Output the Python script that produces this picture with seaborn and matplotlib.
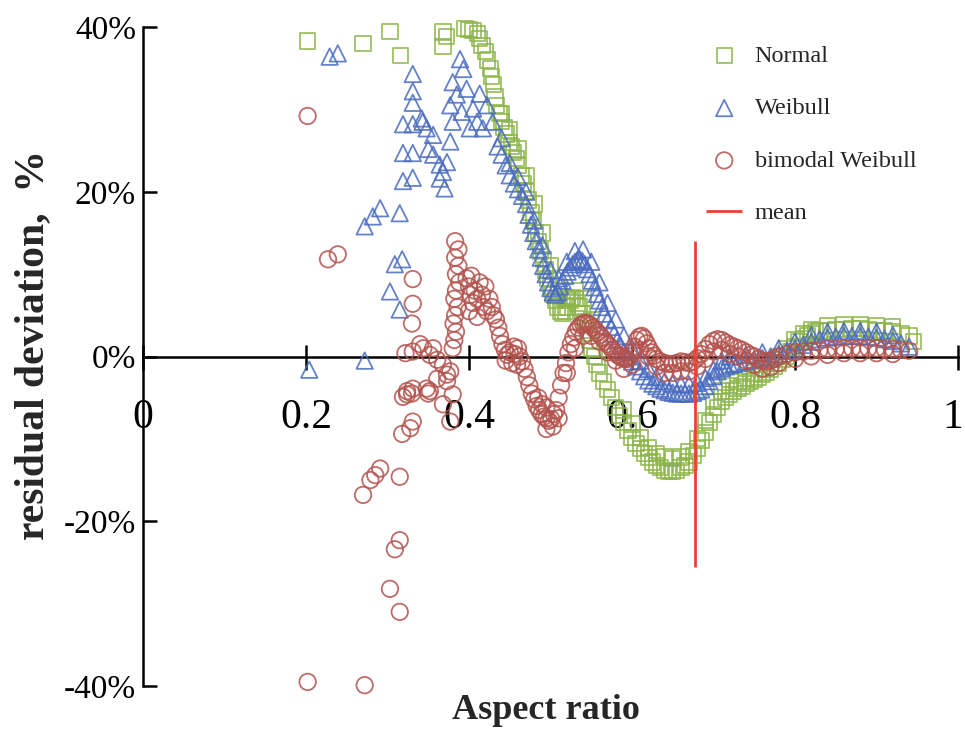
import matplotlib
matplotlib.use("Agg")
import matplotlib.pyplot as plt
import matplotlib.transforms as mtransforms
import pandas as pd
import seaborn as sns
from matplotlib.ticker import PercentFormatter

# ---------------- data ----------------
normal_x = [0.202, 0.270, 0.303, 0.316, 0.368, 0.368, 0.372,
            0.395, 0.400, 0.405, 0.410, 0.413, 0.416, 0.420, 0.423, 0.426, 0.428,
            0.430, 0.432, 0.434, 0.437, 0.440, 0.443, 0.446, 0.449, 0.452, 0.455,
            0.458, 0.461, 0.464, 0.467, 0.470, 0.473, 0.476, 0.479, 0.482, 0.485,
            0.488, 0.491, 0.494, 0.497, 0.500, 0.503, 0.506, 0.509, 0.512, 0.515,
            0.518, 0.521, 0.524, 0.527, 0.530, 0.533, 0.536, 0.539, 0.542, 0.545,
            0.548, 0.551, 0.554, 0.557, 0.560, 0.565, 0.570, 0.575, 0.580, 0.585,
            0.590, 0.595, 0.600, 0.605, 0.610, 0.615, 0.620, 0.625, 0.630, 0.635,
            0.640, 0.645, 0.650, 0.655, 0.660, 0.665, 0.670, 0.675, 0.680, 0.685,
            0.690, 0.695, 0.700, 0.705, 0.710, 0.715, 0.720, 0.725, 0.730, 0.735,
            0.740, 0.745, 0.750, 0.755, 0.760, 0.765, 0.770, 0.775, 0.780, 0.785,
            0.790, 0.795, 0.800, 0.805, 0.810, 0.815, 0.820, 0.825, 0.830, 0.840,
            0.850, 0.860, 0.870, 0.880, 0.890, 0.900, 0.910, 0.920, 0.930, 0.940,
            0.945]
normal_y = [38.3, 38.0, 39.5, 36.5, 39.4, 37.6, 38.8,
            39.8, 39.7, 39.6, 39.2, 38.6, 37.8, 37.0, 36.0, 35.0, 34.0,
            33.0, 31.5, 30.5, 29.5, 28.5, 27.8, 27.0, 26.0, 25.5, 24.8,
            24.0, 23.2, 22.0, 21.0, 20.0, 19.0, 17.5, 16.5, 15.0, 14.0,
            12.8, 11.8, 10.5, 9.5, 8.5, 7.5, 6.8, 6.0, 5.5, 5.2,
            5.5, 6.0, 6.8, 7.2, 7.0, 6.5, 6.0, 5.2, 4.2, 3.2,
            2.0, 1.0, 0.0, -1.0, -2.0, -3.0, -4.0, -5.0, -6.2, -7.2,
            -8.0, -9.0, -9.8, -10.6, -11.2, -11.8, -12.3, -12.8, -13.2, -13.5,
            -13.8, -14.0, -14.0, -13.8, -13.5, -13.2, -12.8, -12.0, -11.2, -10.2,
            -9.2, -8.0, -7.0, -6.2, -5.5, -5.0, -4.6, -4.2, -3.9, -3.6,
            -3.3, -3.0, -2.8, -2.5, -2.2, -1.9, -1.6, -1.2, -0.8, -0.4,
            0.0, 0.6, 1.2, 1.8, 2.2, 2.5, 2.8, 3.0, 3.1, 3.2,
            3.3, 3.3, 3.4, 3.4, 3.3, 3.2, 3.1, 3.0, 2.8, 2.5,
            1.8]
# second row of overlapping squares that makes the band thick
normal_band_x = [0.440, 0.450, 0.460, 0.470, 0.480, 0.490, 0.500, 0.510, 0.520,
                 0.530, 0.540, 0.550, 0.590, 0.600, 0.610, 0.620, 0.630, 0.640,
                 0.650, 0.660, 0.670, 0.680, 0.690, 0.700, 0.710, 0.720, 0.730,
                 0.740, 0.750, 0.760, 0.770, 0.780, 0.790, 0.800, 0.810, 0.820,
                 0.840, 0.860, 0.880, 0.900, 0.920]
normal_band_y = [29.5, 27.5, 25.2, 22.0, 18.5, 15.0, 11.0, 8.0, 7.0,
                 8.0, 7.0, 4.5, -6.5, -8.2, -9.8, -11.0, -11.8, -12.2,
                 -12.4, -12.2, -11.5, -10.0, -7.8, -5.5, -4.2, -3.5, -3.0,
                 -2.6, -2.0, -1.5, -0.8, 0.0, 1.0, 2.0, 2.8, 3.3,
                 3.8, 3.9, 3.9, 3.8, 3.6]

weibull_x = [0.204, 0.272, 0.229, 0.239, 0.272, 0.282, 0.291, 0.315, 0.309, 0.318,
             0.303, 0.315, 0.319, 0.331, 0.319, 0.331, 0.319, 0.331, 0.343, 0.331,
             0.331, 0.331,
             0.342, 0.348, 0.356, 0.350, 0.356, 0.364, 0.373, 0.368, 0.370, 0.364,
             0.377, 0.380, 0.377, 0.380, 0.389, 0.393, 0.385, 0.397, 0.391,
             0.413, 0.405, 0.422, 0.410, 0.429, 0.401, 0.417,
             0.435, 0.440, 0.445, 0.450, 0.455, 0.460, 0.465, 0.470, 0.473, 0.476,
             0.479, 0.482, 0.485, 0.488, 0.491, 0.494, 0.497, 0.500, 0.503, 0.506,
             0.509, 0.512, 0.515, 0.518, 0.521, 0.524, 0.527, 0.530, 0.533, 0.536,
             0.539, 0.542, 0.545, 0.548, 0.551, 0.554, 0.557, 0.560, 0.563, 0.566,
             0.570, 0.574, 0.578, 0.582, 0.586, 0.590, 0.595, 0.600, 0.605, 0.610,
             0.615, 0.620, 0.625, 0.630, 0.635, 0.640, 0.645, 0.650, 0.655, 0.660,
             0.665, 0.670, 0.675, 0.680, 0.685, 0.690, 0.695, 0.700, 0.705, 0.710,
             0.715, 0.720, 0.725, 0.730, 0.740, 0.750, 0.760, 0.770, 0.780, 0.790,
             0.800, 0.810, 0.820, 0.830, 0.840, 0.850, 0.860, 0.870, 0.880, 0.890,
             0.900, 0.910, 0.920, 0.930, 0.940]
weibull_y = [-1.6, -0.5, 36.4, 36.8, 15.8, 17.0, 18.0, 17.4, 11.2, 11.8,
             7.9, 5.7, 21.3, 21.7, 24.7, 24.7, 28.2, 28.2, 28.5, 30.8,
             32.2, 34.3,
             28.9, 27.7, 26.9, 25.2, 24.5, 23.3, 23.6, 22.4, 20.4, 21.6,
             26.1, 28.5, 30.5, 33.3, 36.1, 34.9, 31.8, 32.5, 29.7,
             31.9, 30.1, 30.5, 28.5, 28.5, 27.7, 27.7,
             25.5, 24.5, 23.2, 22.0, 21.0, 20.3, 19.5, 18.5, 17.2, 16.0,
             15.0, 14.0, 13.0, 12.0, 11.0, 10.0, 9.0, 8.3, 7.8, 7.5,
             7.8, 8.5, 9.2, 9.8, 10.3, 10.8, 11.2, 11.5, 11.7, 11.8,
             11.6, 11.2, 10.6, 10.0, 9.2, 8.4, 7.6, 6.8, 6.0, 5.2,
             4.4, 3.6, 2.8, 2.0, 1.3, 0.6, 0.0, -0.6, -1.2, -1.8,
             -2.4, -2.9, -3.3, -3.6, -3.9, -4.1, -4.3, -4.4, -4.5, -4.5,
             -4.5, -4.5, -4.4, -4.2, -4.0, -3.6, -3.0, -2.4, -1.8, -1.4,
             -1.2, -1.0, -0.9, -0.8, -0.6, -0.4, -0.2, 0.0, 0.3, 0.7,
             1.0, 1.4, 1.8, 2.1, 2.3, 2.4, 2.5, 2.5, 2.5, 2.4,
             2.3, 2.1, 1.9, 1.6, 1.2]
weibull_band_x = [0.440, 0.450, 0.460, 0.470, 0.480, 0.490, 0.500, 0.510, 0.520,
                  0.530, 0.540, 0.550, 0.560, 0.570, 0.580, 0.590, 0.600, 0.610,
                  0.620, 0.630, 0.640, 0.650, 0.660, 0.670, 0.680, 0.690, 0.700,
                  0.710, 0.720, 0.740, 0.760, 0.780, 0.800, 0.820, 0.840, 0.860,
                  0.880, 0.900, 0.920]
weibull_band_y = [26.5, 23.5, 21.8, 20.0, 16.5, 13.5, 10.5, 9.5, 11.5,
                  12.8, 13.0, 11.5, 9.0, 6.5, 4.5, 2.5, 1.0, -0.5,
                  -1.5, -2.5, -3.0, -3.3, -3.4, -3.4, -3.2, -2.6, -1.6,
                  -0.5, 0.0, 0.2, 0.5, 1.0, 1.8, 2.6, 3.0, 3.1,
                  3.1, 3.0, 2.6]

bimodal_x = [0.202, 0.202, 0.272, 0.227, 0.239, 0.331, 0.331, 0.330,
             0.319, 0.330, 0.350, 0.318, 0.328, 0.291, 0.285, 0.279, 0.270, 0.315,
             0.315, 0.309, 0.303, 0.315,
             0.322, 0.331, 0.344, 0.352, 0.361, 0.368, 0.377, 0.324, 0.331, 0.348,
             0.361, 0.373, 0.380, 0.340, 0.356, 0.373, 0.331, 0.324, 0.352, 0.368,
             0.377,
             0.383, 0.387, 0.383, 0.387, 0.384, 0.388, 0.384, 0.382, 0.386, 0.383,
             0.381, 0.384, 0.382, 0.380,
             0.397, 0.400, 0.403, 0.407, 0.410, 0.405, 0.400, 0.413, 0.416, 0.420,
             0.418, 0.422, 0.425, 0.428, 0.430, 0.433, 0.436, 0.410, 0.402,
             0.438, 0.441, 0.444, 0.447, 0.445, 0.450, 0.453, 0.456, 0.459, 0.462,
             0.465, 0.468, 0.455, 0.460,
             0.471, 0.474, 0.477, 0.480, 0.483, 0.486, 0.489, 0.492, 0.495, 0.498,
             0.501, 0.504, 0.485, 0.490, 0.495,
             0.507, 0.510, 0.513, 0.516, 0.519, 0.522, 0.525, 0.528, 0.531, 0.534,
             0.537, 0.540, 0.543, 0.546, 0.549, 0.552, 0.555, 0.558, 0.561, 0.564,
             0.567, 0.570, 0.573, 0.576, 0.579, 0.582, 0.585, 0.588, 0.591, 0.594,
             0.597, 0.600, 0.603, 0.606, 0.609, 0.612, 0.615, 0.618, 0.621, 0.624,
             0.627, 0.630, 0.635, 0.640, 0.645, 0.650, 0.655, 0.660, 0.665, 0.670,
             0.675, 0.680, 0.685, 0.690, 0.695, 0.700, 0.705, 0.710, 0.715, 0.720,
             0.725, 0.730, 0.735, 0.740, 0.745, 0.750, 0.755, 0.760, 0.765, 0.770,
             0.775, 0.780, 0.790, 0.800, 0.810, 0.820, 0.830, 0.840, 0.850, 0.860,
             0.870, 0.880, 0.890, 0.900, 0.910, 0.920, 0.930, 0.940]
bimodal_y = [29.2, -39.5, -39.9, 11.8, 12.4, 9.4, 6.4, 4.0,
             -4.9, -4.5, -4.5, -9.4, -8.7, -13.6, -14.4, -15.0, -16.8, -14.6,
             -22.3, -23.4, -28.2, -31.0,
             0.4, 0.6, 1.0, 0.2, -0.4, -1.0, -1.8, -4.2, -3.9, -3.9,
             -2.7, -3.0, -4.6, 1.5, 1.0, -2.2, -7.9, -4.6, -4.2, -5.8,
             -7.9,
             14.0, 13.0, 12.0, 11.0, 10.0, 9.0, 8.0, 7.0, 6.0, 5.0,
             4.0, 3.0, 2.0, 1.0,
             9.5, 8.5, 9.8, 8.0, 7.0, 6.5, 5.5, 9.0, 7.5, 8.5,
             6.0, 5.5, 7.0, 6.0, 5.0, 4.5, 3.5, 4.8, 7.5,
             2.5, 1.5, 0.8, 0.2, -0.5, 0.5, -0.8, 0.3, -1.0, 0.0,
             -0.6, -1.5, 1.2, 1.0,
             -2.5, -3.5, -4.5, -5.2, -6.0, -6.5, -7.0, -7.3, -7.5, -7.8,
             -7.6, -7.0, -5.0, -5.8, -6.2,
             -6.5, -5.0, -3.5, -2.0, -0.8, 0.5, 1.5, 2.3, 3.0, 3.5,
             3.8, 4.0, 4.1, 4.0, 3.8, 3.5, 3.2, 2.9, 2.6, 2.2,
             1.8, 1.5, 1.2, 0.8, 0.5, 0.2, 0.0, -0.2, -0.3, -0.3,
             0.0, 0.5, 1.2, 2.0, 2.4, 2.5, 2.2, 1.6, 1.0, 0.5,
             0.1, -0.3, -0.6, -0.8, -0.9, -0.9, -0.8, -0.6, -0.7, -0.8,
             -0.6, -0.2, 0.3, 0.9, 1.5, 1.9, 2.1, 2.0, 1.7, 1.4,
             1.2, 1.0, 0.8, 0.5, 0.2, 0.0, -0.3, -0.5, -0.6, -0.5,
             -0.3, 0.0, 0.3, 0.5, 0.6, 0.7, 0.8, 0.9, 0.9, 1.0,
             1.0, 1.0, 1.0, 1.0, 0.9, 0.9, 0.8, 0.7]
bimodal_band_x = [0.495, 0.503, 0.510, 0.520, 0.530, 0.540, 0.550, 0.560, 0.570,
                  0.580, 0.590, 0.600, 0.610, 0.620, 0.630, 0.640, 0.650, 0.660,
                  0.670, 0.680, 0.690, 0.700, 0.710, 0.720, 0.730, 0.740, 0.750,
                  0.760, 0.770, 0.780, 0.800, 0.820, 0.840, 0.860, 0.880, 0.900,
                  0.920]
bimodal_band_y = [-8.8, -8.5, -7.5, -2.0, 1.0, 2.5, 2.5, 1.8, 0.5,
                  -0.5, -1.5, -1.0, 0.8, 0.0, -1.2, -2.0, -2.0, -1.8,
                  -1.8, -1.2, -0.3, 0.6, 0.8, 0.3, 0.0, -0.5, -1.0,
                  -1.5, -1.3, -0.8, -0.3, 0.0, 0.2, 0.4, 0.4, 0.4,
                  0.3]

mean_x = 0.677
mean_low, mean_high = -25.5, 14.0

x_ticks = [0, 0.2, 0.4, 0.6, 0.8, 1]
x_tick_labels = ["0", "0.2", "0.4", "0.6", "0.8", "1"]
y_ticks = [-40, -20, 0, 20, 40]

GREEN = "#8cb54a"
BLUE = "#4a6cc0"
RED = "#b4524d"
MEAN_RED = "#e8432f"

# ---------------- figure ----------------
sns.set_style("white")
plt.rcParams["font.family"] = ["Liberation Serif", "DejaVu Serif"]
plt.rcParams["axes.unicode_minus"] = False

fig = plt.figure(figsize=(9.65, 7.34), dpi=100)
ax = fig.add_axes([143 / 965, 1 - 686 / 734, 815 / 965, 659 / 734])

series = [
    ("Normal", normal_x + normal_band_x, normal_y + normal_band_y, "s", GREEN, 120),
    ("Weibull", weibull_x + weibull_band_x, weibull_y + weibull_band_y, "^", BLUE, 140),
    ("bimodal Weibull", bimodal_x + bimodal_band_x, bimodal_y + bimodal_band_y,
     "o", RED, 140),
]
for i, (label, xs, ys, mk, col, size) in enumerate(series):
    df = pd.DataFrame({"x": xs, "y": ys})
    sns.scatterplot(data=df, x="x", y="y", marker=mk, s=size, color=col,
                    linewidth=1.3, ax=ax, legend=False, zorder=3 + i,
                    clip_on=False)
    coll = ax.collections[-1]
    coll.set_facecolor("none")
    coll.set_edgecolor(col)
    coll.set_alpha(0.85)
    coll.set_label(label)

ax.vlines(mean_x, mean_low, mean_high, color=MEAN_RED, lw=2, zorder=6,
          label="mean")

ax.set_xlim(0, 1)
ax.set_ylim(-40, 40)
for s in ["top", "right"]:
    ax.spines[s].set_visible(False)
ax.spines["bottom"].set_position(("data", 0))
for s in ["left", "bottom"]:
    ax.spines[s].set_linewidth(1.8)
    ax.spines[s].set_color("black")
    ax.spines[s].set_zorder(2)

ax.set_xticks(x_ticks)
ax.set_xticklabels(x_tick_labels)
ax.set_yticks(y_ticks)
ax.yaxis.set_major_formatter(PercentFormatter(decimals=0))
ax.tick_params(axis="x", bottom=True, direction="inout", length=18, width=1.8,
               pad=21, labelsize=30, colors="black")
ax.tick_params(axis="y", left=True, direction="in", length=10, width=1.8, pad=5,
               labelsize=24, colors="black")
# nudge the last x label ("1") slightly left so it stays inside the canvas
last = ax.get_xticklabels()[-1]
last.set_transform(last.get_transform() +
                   mtransforms.ScaledTranslation(-5 / 100, 0, fig.dpi_scale_trans))

ax.set_xlabel("Aspect ratio", fontsize=26, fontweight="bold")
ax.xaxis.set_label_coords(0.494, -0.012)
ax.set_ylabel("residual deviation,  %", fontsize=30, fontweight="bold")
ax.yaxis.set_label_coords(-0.112, 0.517)

leg = ax.legend(loc="upper left", bbox_to_anchor=(706 / 965, 1 - 45 / 734),
                bbox_transform=fig.transFigure, frameon=False, fontsize=17.5,
                handlelength=1.5, handletextpad=0.5, labelspacing=1.25,
                borderpad=0, borderaxespad=0)

fig.savefig("out.png", dpi=100)
